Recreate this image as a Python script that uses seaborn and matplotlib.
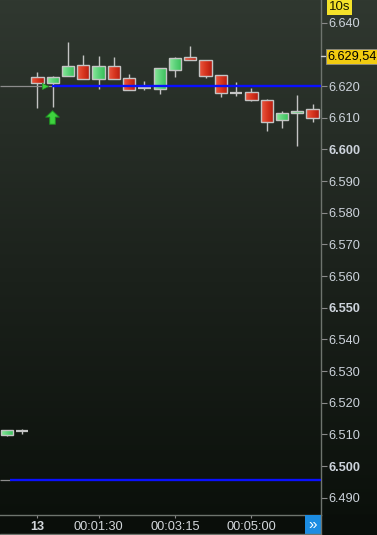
import numpy as np
import pandas as pd
import matplotlib
matplotlib.use("Agg")
import matplotlib.pyplot as plt
import seaborn as sns
from matplotlib.path import Path
from matplotlib.patches import Rectangle
from matplotlib.colors import LinearSegmentedColormap

sns.set_theme(style="dark")
plt.rcParams['font.family'] = ['Liberation Sans', 'DejaVu Sans']

# ---------------- data ----------------
opens  = [6.5099, 6.5111, 6.6228, 6.6209, 6.6231, 6.6266, 6.6223, 6.6262, 6.6225, 6.6194,
          6.6192, 6.6252, 6.6291, 6.6281, 6.6234, 6.6179, 6.6180, 6.6156, 6.6094, 6.6114, 6.6128]
highs  = [6.5113, 6.5116, 6.6244, 6.6232, 6.6339, 6.6298, 6.6295, 6.6292, 6.6238, 6.6216,
          6.6256, 6.6292, 6.6326, 6.6281, 6.6234, 6.6213, 6.6193, 6.6160, 6.6122, 6.6171, 6.6143]
lows   = [6.5095, 6.5100, 6.6132, 6.6135, 6.6231, 6.6223, 6.6192, 6.6223, 6.6188, 6.6188,
          6.6175, 6.6228, 6.6281, 6.6226, 6.6166, 6.6169, 6.6152, 6.6059, 6.6069, 6.6012, 6.6087]
closes = [6.5113, 6.5111, 6.6209, 6.6228, 6.6262, 6.6223, 6.6262, 6.6223, 6.6188, 6.6194,
          6.6256, 6.6288, 6.6281, 6.6233, 6.6177, 6.6179, 6.6155, 6.6087, 6.6114, 6.6121, 6.6100]

time_tick_idx = [2, 6, 11, 16]
time_labels = ["13", "00:01:30", "00:03:15", "00:05:00"]
price_ticks = [6.490, 6.500, 6.510, 6.520, 6.530, 6.540, 6.550, 6.560, 6.570,
               6.580, 6.590, 6.600, 6.610, 6.620, 6.640]
bold_prices = [6.500, 6.550, 6.600]
last_price = 6.62954
last_price_text = "6.629,54"
period_text = "10s"
line_hi = 6.620
line_lo = 6.4956
arrow_price = 6.6101
arrow_idx = 3
line_hi_start = 2.95
line_lo_start = 0.2
marker_idx = 2.46

df = pd.DataFrame({"o": opens, "h": highs, "l": lows, "c": closes})
df["x"] = np.arange(len(df))

# ---------------- figure ----------------
W, H = 377, 535
fig = plt.figure(figsize=(W / 100, H / 100), dpi=100)

# background gradient
bg = fig.add_axes([0, 0, 1, 1], zorder=-5)
grad = np.linspace(0, 1, 256).reshape(-1, 1)
bg_cmap = LinearSegmentedColormap.from_list("bg", ["#303830", "#1c221c", "#0a0f0a"])
bg.imshow(grad, aspect="auto", cmap=bg_cmap, extent=[0, 1, 0, 1], origin="upper")
bg.set_axis_off()
bg.add_patch(Rectangle((0, 0), 1, 20 / H, color="#0a0e0a", transform=bg.transAxes))

ax = fig.add_axes([0, 20 / H, 321 / W, 515 / H])
ax.set_facecolor("none")

xlim = (-0.454, 20.556)
ylim = (6.48454, 6.64717)

green_cmap = LinearSegmentedColormap.from_list("g", ["#8de89c", "#5cd27a", "#38c058"])
red_cmap = LinearSegmentedColormap.from_list("r", ["#ea5a44", "#d8361f", "#b51c10"])
hgrad = np.linspace(0, 1, 64).reshape(1, -1)

bw = 0.8
edge = "#c4c4c4"
ax.vlines(df["x"], df["l"], df["h"], color=edge, lw=1.0, zorder=2)
for _, r in df.iterrows():
    lo, hi = min(r.o, r.c), max(r.o, r.c)
    if abs(r.c - r.o) < 1e-9:
        ax.hlines(r.o, r.x - bw / 2, r.x + bw / 2, color=edge, lw=1.6, zorder=3)
        continue
    cmap = green_cmap if r.c > r.o else red_cmap
    im = ax.imshow(hgrad, aspect="auto", cmap=cmap,
                   extent=[r.x - bw / 2, r.x + bw / 2, lo, hi], zorder=3)
    rect = Rectangle((r.x - bw / 2, lo), bw, hi - lo, facecolor="none",
                     edgecolor=edge, lw=1.0, zorder=4)
    ax.add_patch(rect)
    im.set_clip_path(rect)

# reference lines
ax.hlines(line_hi, xlim[0], line_hi_start, color="#8c8c8c", lw=0.9, zorder=2)
ax.hlines(line_hi, line_hi_start, xlim[1], color="#0a10ff", lw=1.7, zorder=5)
ax.hlines(line_lo, xlim[0], line_lo_start, color="#8c8c8c", lw=0.9, zorder=2)
ax.hlines(line_lo, line_lo_start, xlim[1], color="#0a10ff", lw=1.7, zorder=5)

# markers
arrow = Path([(0, 1), (1, 0.05), (0.42, 0.05), (0.42, -1), (-0.42, -1),
              (-0.42, 0.05), (-1, 0.05), (0, 1)],
             [Path.MOVETO] + [Path.LINETO] * 6 + [Path.CLOSEPOLY])
mk = pd.DataFrame({"x": [arrow_idx - 0.03], "y": [arrow_price]})
sns.scatterplot(data=mk, x="x", y="y", marker=arrow, s=95, color="#3ed23e",
                edgecolor="#1f8a22", linewidth=0.7, ax=ax, zorder=6, legend=False)
tri = pd.DataFrame({"x": [marker_idx], "y": [line_hi]})
sns.scatterplot(data=tri, x="x", y="y", marker=">", s=22, color="#3ed23e",
                edgecolor="#1f8a22", linewidth=0.4, ax=ax, zorder=6, legend=False)

ax.set_xlim(*xlim)
ax.set_ylim(*ylim)
ax.set_xlabel("")
ax.set_ylabel("")

# y axis on right
ax.yaxis.tick_right()
ax.set_yticks(price_ticks)
ax.set_yticklabels([f"{p:.3f}" for p in price_ticks])
for lab, p in zip(ax.get_yticklabels(), price_ticks):
    if any(abs(p - b) < 1e-6 for b in bold_prices):
        lab.set_fontweight("bold")
ax.tick_params(axis="y", which="both", right=True, left=False, direction="out",
               length=4, width=0.8, color="#8a8a8a", labelcolor="#cdd4dc",
               labelsize=9.2, pad=1.2)

ax.set_xticks(time_tick_idx)
ax.set_xticklabels(time_labels)
ax.get_xticklabels()[0].set_fontweight("bold")
ax.tick_params(axis="x", which="both", bottom=True, direction="out", length=2.5,
               width=0.8, color="#8a8a8a", labelcolor="#d4d8dc", labelsize=9.2, pad=1.5)

for s in ["top", "left"]:
    ax.spines[s].set_visible(False)
for s in ["bottom", "right"]:
    ax.spines[s].set_visible(True)
    ax.spines[s].set_color("#6e746e")
    ax.spines[s].set_linewidth(1.0)
ax.grid(False)

fig.add_artist(plt.Line2D([321 / W, 321 / W], [0, 20 / H], color="#6e746e", lw=1.0))
fig.add_artist(plt.Line2D([0, 321 / W], [1.5 / H, 1.5 / H], color="#6e746e", lw=1.0))

# last price label
ax.plot([xlim[1], xlim[1] + 0.25], [last_price, last_price], color="#d0d0d0", lw=1,
        clip_on=False, zorder=6)
fig.text(327.5 / W, 1 - 56.5 / H, last_price_text, ha="left", va="center", fontsize=9.2,
         color="#000000",
         bbox=dict(boxstyle="square,pad=0.1", facecolor="#f2cc10", edgecolor="#8a8a8a", lw=0.6))
# period label
fig.text(328.5 / W, 1 - 7.5 / H, period_text, ha="left", va="center", fontsize=9.5,
         color="#1a1a00",
         bbox=dict(boxstyle="square,pad=0.15", facecolor="#f5e22a", edgecolor="none"))

# scroll button
fig.add_artist(Rectangle((305 / W, 1 / H), 16 / W, 19 / H, transform=fig.transFigure,
                         facecolor="#1c8ce2", edgecolor="none"))
fig.text(313 / W, 10.5 / H, "»", ha="center", va="center", fontsize=11, color="white")

fig.savefig("out.png", dpi=100)
